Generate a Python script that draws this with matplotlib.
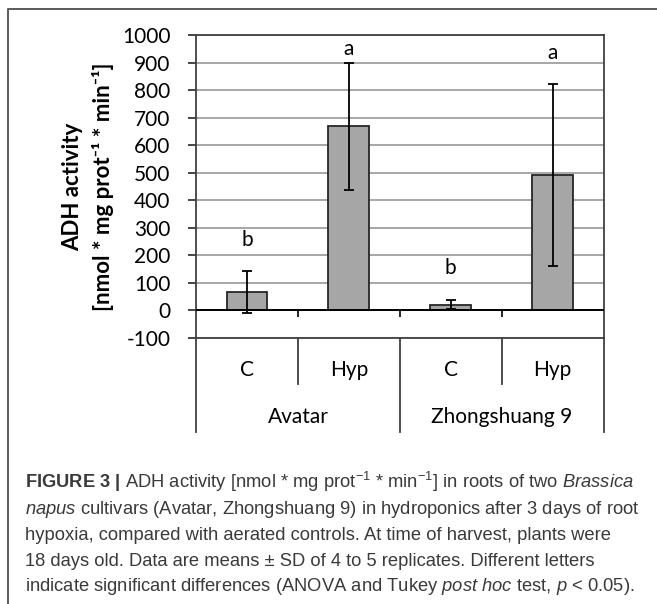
import numpy as np
import matplotlib
matplotlib.use('Agg')
import matplotlib.pyplot as plt
from matplotlib import rc
from matplotlib.lines import Line2D
from matplotlib.transforms import blended_transform_factory

# data
cultivars = ['Avatar', 'Zhongshuang 9']
treatments = ['C', 'Hyp', 'C', 'Hyp']
adh_mean = [67, 668, 21, 491]
adh_sd = [78, 229, 17, 331]
letters = ['b', 'a', 'b', 'a']
letter_y = [256, 948, 155, 935]

# style
rc('axes', unicode_minus=False)
rc('mathtext', fontset='custom', rm='Liberation Sans', it='Liberation Sans:italic',
   bf='Liberation Sans:bold')
LABEL_FONT = ['Lato', 'DejaVu Sans']
BarGrey = '#a6a6a6'
GridGrey = '#a0a0a0'
Dark = '#262626'

W, H = 657, 604
fig = plt.figure(figsize=(W/100, H/100), dpi=100)
x0, x1, ytop, ybot = 196, 603.5, 35, 338
ax = fig.add_axes([x0/W, 1-ybot/H, (x1-x0)/W, (ybot-ytop)/H])

x = np.arange(len(adh_mean))
ax.bar(x, adh_mean, width=0.4, color=BarGrey, edgecolor=Dark, linewidth=1.3, zorder=3)
ax.errorbar(x, adh_mean, yerr=adh_sd, fmt='none', ecolor='black', elinewidth=1.3,
            capsize=3.8, capthick=1.3, zorder=4)

ax.set_xlim(-0.5, 3.5)
ax.set_ylim(-100, 1000)
ax.set_yticks(np.arange(-100, 1001, 100))
ax.yaxis.grid(True, color=GridGrey, linewidth=1.3, zorder=0)
ax.set_axisbelow(True)
ax.tick_params(axis='y', length=6, width=1.2, color=Dark, pad=12.5, labelsize=15)
for lab in ax.get_yticklabels():
    lab.set_family(LABEL_FONT)
ax.set_xticks([])
for s in ['left', 'right', 'top', 'bottom']:
    ax.spines[s].set_color('#404040')
    ax.spines[s].set_linewidth(1.3)

# horizontal axis at zero with small ticks at category boundaries
ax.axhline(0, color='black', linewidth=1.4, zorder=5)
ax.vlines([0.5, 1.5, 2.5], 0, -25, color='black', linewidth=1.2, zorder=5)

# multi-level category box below the plot
tr = blended_transform_factory(ax.transData, ax.transAxes)
for xv, yb in [(-0.5, -0.31), (0.5, -0.152), (1.5, -0.31), (2.5, -0.152), (3.5, -0.31)]:
    ax.add_line(Line2D([xv, xv], [0, yb], transform=tr, color='#404040',
                       linewidth=1.3, clip_on=False))
for xi, t in zip(x, treatments):
    ax.text(xi, -0.106, t, transform=tr, ha='center', va='center', fontsize=15,
            family=LABEL_FONT)
for gi, c in enumerate(cultivars):
    ax.text(2*gi + 0.5, -0.26, c, transform=tr, ha='center', va='center', fontsize=15,
            family=LABEL_FONT)

# significance letters
for xi, l, ly in zip(x, letters, letter_y):
    ax.text(xi, ly, l, ha='center', va='center', fontsize=15, family=LABEL_FONT)

# y axis title, two lines
yc = 1 - 186.5/H
fig.text(73/W, yc, 'ADH activity', rotation=90, ha='center', va='center',
         fontsize=16, fontweight='bold', family=LABEL_FONT)
fig.text(103/W, yc, '[nmol * mg prot\u207b\u00b9 * min\u207b\u00b9]', rotation=90,
         ha='center', va='center', fontsize=16, fontweight='bold', family=LABEL_FONT)

# frame of the figure panel
fig.add_artist(Line2D([8/W, 8/W, 1], [0, 1-9/H, 1-9/H], transform=fig.transFigure,
                      color='#5a5a5a', linewidth=1.4))

# caption
caption = [
    r'$\mathbf{FIGURE\ 3\ |}$ ADH activity [nmol * mg prot$^{-1}$ * min$^{-1}$] in roots of two $\mathit{Brassica}$',
    r'$\mathit{napus}$ cultivars (Avatar, Zhongshuang 9) in hydroponics after 3 days of root',
    'hypoxia, compared with aerated controls. At time of harvest, plants were',
    '18 days old. Data are means \u00b1 SD of 4 to 5 replicates. Different letters',
    r'indicate significant differences (ANOVA and Tukey $\mathit{post\ hoc}$ test, $\mathit{p}$ < 0.05).',
]
baselines = [488, 514, 540, 565.5, 591]
for line, b in zip(caption, baselines):
    fig.text(25/W, 1-b/H, line, ha='left', va='baseline', fontsize=13.2,
             family='Liberation Sans', color='#3a3a3a')

fig.savefig('out.png', dpi=100)
